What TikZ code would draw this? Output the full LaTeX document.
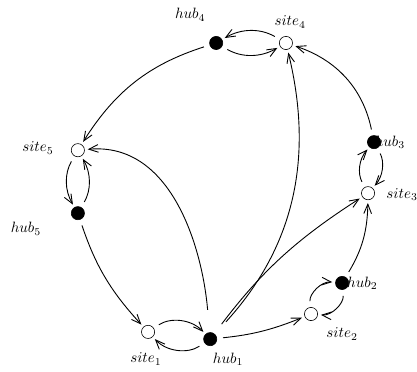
\documentclass[tikz,border=0pt]{standalone}
\usepackage{amsmath, amssymb}
\usetikzlibrary{
	arrows.meta,
	positioning
}

\begin{document}
\begin{tikzpicture}[
	>={Straight Barb[length=2.2mm, width=1.8mm]},
	hub/.style={circle, draw, fill=black, minimum size=3.1mm, inner sep=0pt},
	site/.style={circle, draw, fill=white, minimum size=3.1mm, inner sep=0pt},
	link/.style={->, semithick, shorten >=2pt, shorten <=4pt},
	tag/.style={font=\normalsize, inner sep=0pt}
	]
	
	\useasboundingbox (0,0) rectangle (9.8,8.72);
	
	% Hubs and sites
	\node[hub]  (hub4)  at (5.08,7.71) {};
	\node[site] (site4) at (6.72,7.71) {};
	\node[site] (site5) at (1.83,5.19) {};
	\node[hub]  (hub5)  at (1.83,3.71) {};
	\node[hub]  (hub3)  at (8.79,5.38) {};
	\node[site] (site3) at (8.65,4.18) {};
	\node[hub]  (hub2)  at (8.04,2.07) {};
	\node[site] (site2) at (7.31,1.34) {};
	\node[site] (site1) at (3.48,0.92) {};
	\node[hub]  (hub1)  at (4.94,0.75) {};
	
	% Labels
	\node[tag] (lhub4)  at (4.47,8.37) {$hub_4$};
	\node[tag] (lsite4) at (6.82,8.20) {$site_4$};
	\node[tag] (lsite5) at (0.89,5.24) {$site_5$};
	\node[tag] (lhub5)  at (0.61,3.34) {$hub_5$};
	\node[tag, right=-1.5mm of hub3] (lhub3) {$hub_3$};
	\node[tag] (lsite3) at (9.45,4.14) {$site_3$};
	\node[tag, right=-0.5mm of hub2] (lhub2) {$hub_2$};
	\node[tag] (lsite2) at (8.04,0.87) {$site_2$};
	\node[tag] (lsite1) at (3.43,0.28) {$site_1$};
	\node[tag] (lhub1)  at (5.36,0.28) {$hub_1$};
	
	% --- Links ---
	
	% hub/site pairs
	\draw[link] (hub4) to[bend right=30] (site4);
	\draw[link] (site4) to[bend right=30] (hub4);
	\draw[link] (site5) to[bend right=30] (hub5);
	\draw[link] (hub5) to[bend right=30] (site5);
	\draw[link] (site3) to[bend left=35] (hub3);
	\draw[link] (hub3) to[bend left=35] (site3);
	\draw[link] (site2) to[bend left=50] (hub2);
	\draw[link] (hub2) to[bend left=50] (site2);
	\draw[link] (site1) to[bend left=40] (hub1);
	\draw[link] (hub1) to[bend left=40] (site1);
	
	% ring
	\draw[link] (hub4) to[bend right=20] (site5);
	\draw[link] (hub5) to[bend right=12] (site1);
	\draw[link] (hub2) to[bend right=15] (site3);
	\draw[link] (hub3) to[bend right=30] (site4);
	
	% hub1 to the other sites
	\draw[link, shorten <=15pt] (hub1) to[out=95, in=5] (site5);
	\draw[link, shorten <=11pt] (hub1) to[bend right=28] (site4);
	\draw[link, shorten <=8pt] (hub1) to[bend left=10] (site3);
	\draw[link] (hub1) to[bend right=8] (site2);
\end{tikzpicture}
\end{document}
